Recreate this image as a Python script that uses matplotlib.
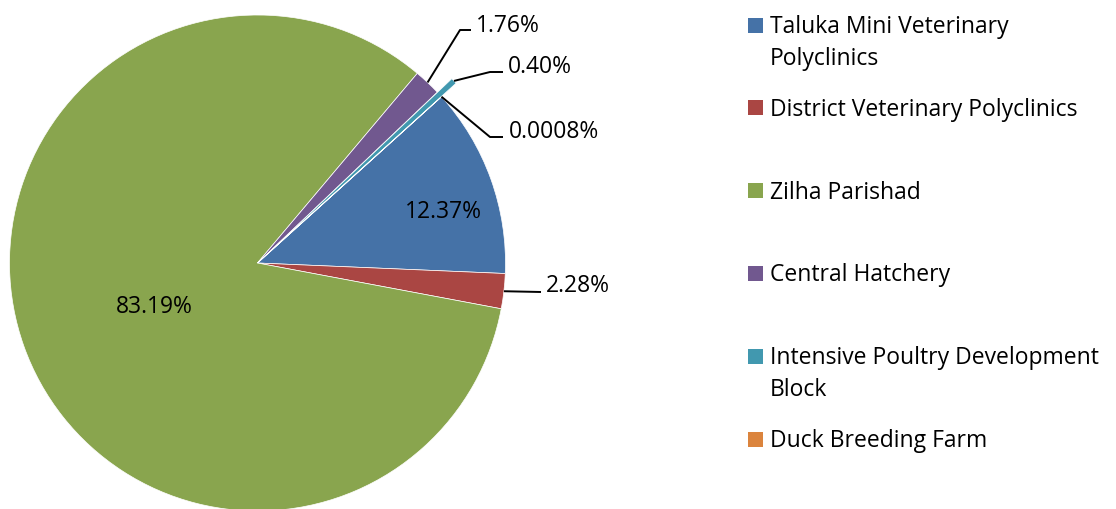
#!/usr/bin/env python3
"""Pie chart: share of units by institution type."""

import numpy as np
import matplotlib
matplotlib.use("Agg")
from matplotlib import pyplot as plt
from matplotlib.patches import Rectangle


categories = [
    "Taluka Mini Veterinary Polyclinics",
    "District Veterinary Polyclinics",
    "Zilha Parishad",
    "Central Hatchery",
    "Intensive Poultry Development Block",
    "Duck Breeding Farm",
]
legend_lines = [
    ["Taluka Mini Veterinary", "Polyclinics"],
    ["District Veterinary Polyclinics"],
    ["Zilha Parishad"],
    ["Central Hatchery"],
    ["Intensive Poultry Development", "Block"],
    ["Duck Breeding Farm"],
]
shares = [12.37, 2.28, 83.19, 1.76, 0.40, 0.0008]
share_labels = ["12.37%", "2.28%", "83.19%", "1.76%", "0.40%", "0.0008%"]
colors = ["#4572A7", "#AA4643", "#89A54E", "#71588F", "#4198AF", "#DB843D"]

W, H = 1116, 509
CX, CY, R = 257.5, 263.0, 248.0  # pie centre / radius in pixels
FONT = "Open Sans"
FS = 16.5

# label layout in pixels (x, baseline y); outside labels get an elbow leader
INSIDE = {0: (443, 218), 2: (154.5, 313)}
OUTSIDE = {
    1: (None, (541, 292), (546, 292)),
    3: ((460, 30), (471, 30), (476, 32)),
    4: ((490, 72), (503, 72), (508, 73)),
    5: ((490, 137), (503, 137), (509, 138)),
}


def to_data(px, py):
    return (px - CX) / R, (CY - py) / R


def to_fig(px, py):
    return px / W, 1 - py / H


def main():
    fig = plt.figure(figsize=(W / 100, H / 100), dpi=100)
    span = 2.4 * R
    ax = fig.add_axes([(CX - span / 2) / W, (H - CY - span / 2) / H, span / W, span / H])

    explode = [0, 0, 0, 0, 0.08, 0]
    wedges, _ = ax.pie(
        shares,
        colors=colors,
        startangle=42.1,
        counterclock=False,
        explode=explode,
        radius=1,
        wedgeprops={"edgecolor": "white", "linewidth": 0.5},
    )
    ax.set_xlim(-1.2, 1.2)
    ax.set_ylim(-1.2, 1.2)
    ax.set_aspect("equal")
    ax.axis("off")

    for i, (px, py) in INSIDE.items():
        x, y = to_data(px, py)
        ax.text(x, y, share_labels[i], ha="center", va="baseline",
                fontsize=FS, family=FONT, color="black")

    for i, (elbow, end, text_pos) in OUTSIDE.items():
        w = wedges[i]
        mid = np.deg2rad((w.theta1 + w.theta2) / 2)
        start = (w.center[0] + w.r * np.cos(mid), w.center[1] + w.r * np.sin(mid))
        pts = [start]
        if elbow is not None:
            pts.append(to_data(*elbow))
        pts.append(to_data(*end))
        xs, ys = zip(*pts)
        ax.plot(xs, ys, color="black", linewidth=1.4, solid_capstyle="butt")
        tx, ty = to_data(*text_pos)
        ax.text(tx, ty, share_labels[i], ha="left", va="baseline",
                fontsize=FS, family=FONT, color="black")

    # legend, first line of each entry on a fixed pitch
    for i, lines in enumerate(legend_lines):
        yc = 25 + i * 82.8
        fig.add_artist(Rectangle(to_fig(748, yc + 7.5), 15 / W, 15 / H,
                                 transform=fig.transFigure, color=colors[i], lw=0))
        for k, line in enumerate(lines):
            fig.text(*to_fig(770, yc + 8 + k * 32), line, ha="left", va="baseline",
                     fontsize=FS, family=FONT, color="black")

    fig.savefig("out.png", dpi=100)


if __name__ == "__main__":
    main()
